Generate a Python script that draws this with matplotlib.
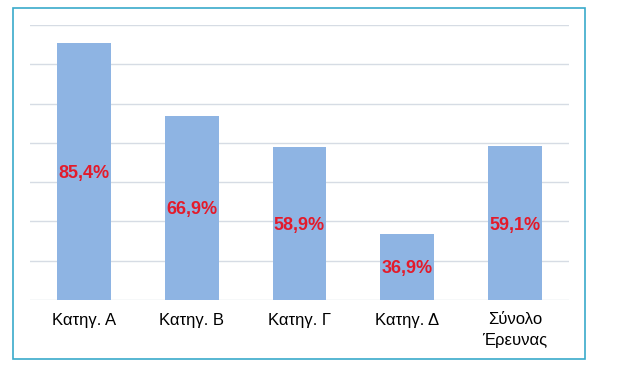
import matplotlib.pyplot as plt
from matplotlib.patches import Rectangle

categories = ['Κατηγ. Α', 'Κατηγ. Β', 'Κατηγ. Γ', 'Κατηγ. Δ', 'Σύνολο\nΈρευνας']
values = [85.4, 66.9, 58.9, 36.9, 59.1]
labels = ['85,4%', '66,9%', '58,9%', '36,9%', '59,1%']

plt.rcParams['font.family'] = ['Liberation Sans', 'DejaVu Sans']

fig = plt.figure(figsize=(6.23, 3.66), dpi=100)
ax = fig.add_axes([30 / 623, 1 - 300 / 366, 539 / 623, 275 / 366])

x = range(len(categories))
ax.bar(x, values, width=0.5, color='#8EB4E3', zorder=2)
for i, (v, lab) in enumerate(zip(values, labels)):
    ax.text(i, (v + 20) / 2, lab, ha='center', va='center_baseline', color='#E31B2B',
            fontsize=13, fontweight='bold', zorder=3)

ax.set_ylim(20, 90)
ax.set_xlim(-0.5, len(categories) - 0.5)
ax.set_yticks(range(20, 91, 10))
ax.yaxis.grid(True, color='#D6DCE4', linewidth=1)
ax.set_axisbelow(True)
ax.set_xticks(list(x))
ax.set_xticklabels(categories, fontsize=12, linespacing=1.5)
ax.tick_params(axis='x', length=0, pad=9)
ax.tick_params(axis='y', length=0, labelleft=False)
for s in ax.spines.values():
    s.set_visible(False)

fig.patches.append(Rectangle((13 / 623, 1 - 359 / 366), 572 / 623, 351 / 366,
                             transform=fig.transFigure, fill=False,
                             edgecolor='#3AAACB', linewidth=1.2))

fig.savefig('out.png', dpi=100)
